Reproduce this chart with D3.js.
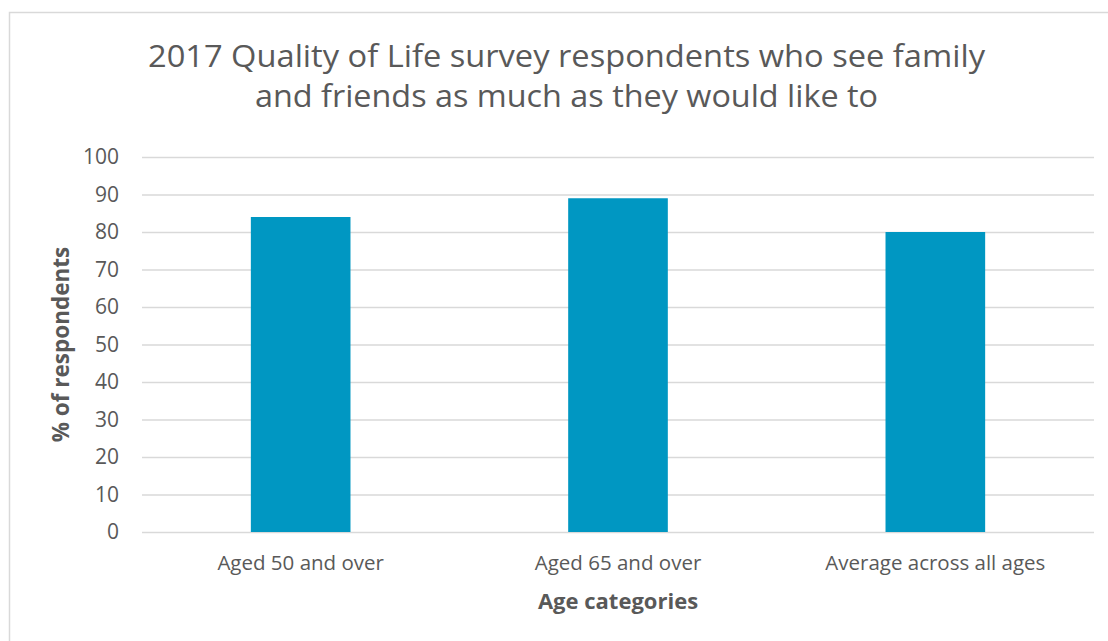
<!DOCTYPE html>
<html>
<head>
<meta charset="utf-8">
<script src="https://cdn.jsdelivr.net/npm/d3@7"></script>
<style>
  html, body { margin: 0; padding: 0; background: #fff; }
  svg text { font-family: "Open Sans", "Noto Sans", sans-serif; fill: #595959; }
</style>
</head>
<body>
<svg id="chart" width="1108" height="641"></svg>
<script>
const categories = ['Aged 50 and over', 'Aged 65 and over', 'Average across all ages'];
const values = [84, 89, 80];
const yTicks = [0, 10, 20, 30, 40, 50, 60, 70, 80, 90, 100];
const titleLines = [
  '2017 Quality of Life survey respondents who see family',
  'and friends as much as they would like to'
];

const svg = d3.select('#chart'),
      width = +svg.attr('width'),
      height = +svg.attr('height');

const margin = { top: 157, right: 14, bottom: 109, left: 142 };
const plotW = width - margin.left - margin.right,
      plotH = height - margin.top - margin.bottom;

// chart frame, runs off the right and bottom edge like the source
svg.append('rect')
  .attr('x', 9.5).attr('y', 12.5)
  .attr('width', width + 20).attr('height', height + 20)
  .attr('fill', 'none')
  .attr('stroke', '#d9d9d9')
  .attr('stroke-width', 1.5);

const x = d3.scaleBand()
  .domain(categories)
  .range([0, plotW])
  .paddingInner(0.686)
  .paddingOuter(0.343);

const y = d3.scaleLinear()
  .domain([0, 100])
  .range([plotH, 0]);

const g = svg.append('g')
  .attr('transform', `translate(${margin.left},${margin.top})`);

// gridlines + y ticks
const yAxis = g.append('g')
  .call(d3.axisLeft(y).tickValues(yTicks).tickSize(-plotW).tickPadding(23));
yAxis.select('.domain').remove();
yAxis.selectAll('.tick line').attr('stroke', '#d9d9d9').attr('stroke-width', 1.5);
yAxis.selectAll('.tick text')
  .style('font-size', '21px')
  .attr('fill', '#595959');

// bars
g.selectAll('rect.bar')
  .data(values)
  .enter().append('rect')
  .attr('class', 'bar')
  .attr('x', (d, i) => x(categories[i]))
  .attr('y', (d) => y(d))
  .attr('width', x.bandwidth())
  .attr('height', (d) => y(0) - y(d))
  .attr('fill', '#0097c2');

// x category labels
const xAxis = g.append('g')
  .attr('transform', `translate(0,${plotH})`)
  .call(d3.axisBottom(x).tickSize(0).tickPadding(23));
xAxis.select('.domain').remove();
xAxis.selectAll('.tick text')
  .style('font-size', '20.5px')
  .attr('fill', '#595959');

// axis titles
svg.append('text')
  .attr('x', margin.left + plotW / 2)
  .attr('y', 609)
  .attr('text-anchor', 'middle')
  .style('font-size', '22px')
  .attr('font-weight', 'bold')
  .text('Age categories');

svg.append('text')
  .attr('transform', `translate(69,${margin.top + plotH / 2}) rotate(-90)`)
  .attr('text-anchor', 'middle')
  .style('font-size', '22.5px')
  .attr('font-weight', 'bold')
  .text('% of respondents');

// title
const titleW = [837, 623];
svg.selectAll('text.title')
  .data(titleLines)
  .enter().append('text')
  .attr('class', 'title')
  .attr('x', 566.5)
  .attr('y', (d, i) => 67 + i * 40)
  .attr('text-anchor', 'middle')
  .style('font-size', '31px')
  .attr('textLength', (d, i) => titleW[i])
  .attr('lengthAdjust', 'spacingAndGlyphs')
  .text((d) => d);
</script>
</body>
</html>
